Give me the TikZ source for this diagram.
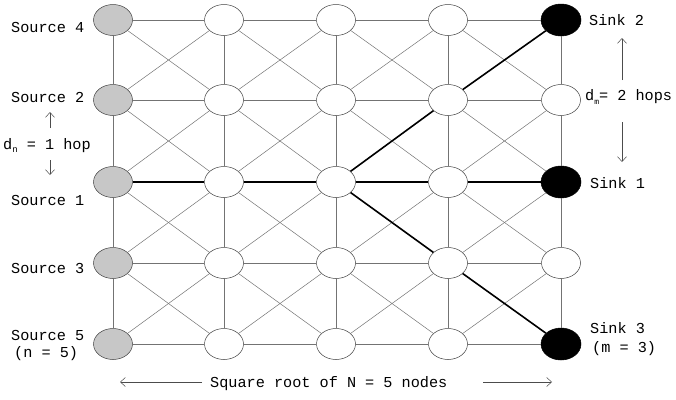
\documentclass[tikz,border=0pt]{standalone}
\usepackage{fontspec}
\setmainfont{Liberation Mono}
\usetikzlibrary{shapes.geometric,arrows.meta}
\begin{document}
\begin{tikzpicture}[x=1pt,y=-1pt,
  gnode/.style={ellipse,draw=black!75,line width=0.5pt,minimum width=39pt,minimum height=31pt,inner sep=0pt,fill=white},
  srcnode/.style={gnode,fill=black!22},
  sinknode/.style={gnode,fill=black,draw=black,minimum width=40pt,minimum height=32pt},
  thinedge/.style={draw=black!55,line width=0.5pt},
  pathedge/.style={draw=black,line width=1.6pt},
  lbl/.style={font=\fontsize{15.2}{15.2}\selectfont,inner sep=0pt},
  subs/.style={},
  harrow/.style={draw=black!70,line width=0.5pt,-{Straight Barb[length=5pt,width=9pt]}}
]
\useasboundingbox (0,0) rectangle (676,399);
% nodes
\foreach \y [count=\j] in {20,100,182,263,344} {
  \node[srcnode] (n1\j) at (113,\y) {};
  \foreach \x [count=\i from 2] in {224,336,448} \node[gnode] (n\i\j) at (\x,\y) {};
}
\node[sinknode] (n51) at (561,20) {};
\node[gnode] (n52) at (561,100) {};
\node[sinknode] (n53) at (561,182) {};
\node[gnode] (n54) at (561,263) {};
\node[sinknode] (n55) at (561,344) {};
% grid edges
\foreach \i in {1,...,4} {
  \pgfmathtruncatemacro\ii{\i+1}
  \foreach \j in {1,...,5} \draw[thinedge] (n\i\j) -- (n\ii\j);
}
\foreach \j in {1,...,4} {
  \pgfmathtruncatemacro\jj{\j+1}
  \foreach \i in {1,...,5} \draw[thinedge] (n\i\j) -- (n\i\jj);
}
\foreach \i in {1,...,4} {
  \pgfmathtruncatemacro\ii{\i+1}
  \foreach \j in {1,...,4} {
    \pgfmathtruncatemacro\jj{\j+1}
    \draw[thinedge] (n\i\j) -- (n\ii\jj);
    \draw[thinedge] (n\ii\j) -- (n\i\jj);
  }
}
% thick paths
\draw[pathedge] (n13) -- (n23);
\draw[pathedge] (n23) -- (n33);
\draw[pathedge] (n33) -- (n43);
\draw[pathedge] (n43) -- (n53);
\draw[pathedge] (n33) -- (n42);
\draw[pathedge] (n42) -- (n51);
\draw[pathedge] (n33) -- (n44);
\draw[pathedge] (n44) -- (n55);
% left labels
\node[lbl,anchor=base west] (s4) at (11,32) {Source 4};
\node[lbl,anchor=base west] (s2) at (11,102) {Source 2};
\node[lbl,anchor=base west] (s1) at (11,205) {Source 1};
\node[lbl,anchor=base west] (s3) at (11,273) {Source 3};
\node[lbl,anchor=base west] (s5) at (11,340) {Source 5};
\node[lbl,anchor=base west] (nn) at (14,357) {(n = 5)};
\node[lbl,anchor=base west] (dn) at (3,149) {d\raisebox{-3pt}{\fontsize{9}{9}\selectfont n} = 1 hop};
% right labels
\node[lbl,anchor=base west] (k2) at (589,25) {Sink 2};
\node[lbl,anchor=base west] (dm) at (585,100) {d\raisebox{-4pt}{\fontsize{8}{8}\selectfont m}= 2 hops};
\node[lbl,anchor=base west] (k1) at (590,188) {Sink 1};
\node[lbl,anchor=base west] (k3) at (590,333) {Sink 3};
\node[lbl,anchor=base west] (mm) at (592,352) {(m = 3)};
% bottom label
\node[lbl,anchor=base west] (sq) at (210,387) {Square root of N = 5 nodes};
% arrows
\coordinate (a1t) at (50,128); \coordinate (a1h) at (50,112);
\coordinate (a2t) at (50,160); \coordinate (a2h) at (50,175);
\coordinate (a3t) at (622,80); \coordinate (a3h) at (622,38);
\coordinate (a4t) at (622,122); \coordinate (a4h) at (622,162);
\coordinate (a5t) at (202,382); \coordinate (a5h) at (120,382);
\coordinate (a6t) at (483,382); \coordinate (a6h) at (552,382);
\draw[harrow] (a1t) -- (a1h);
\draw[harrow] (a2t) -- (a2h);
\draw[harrow] (a3t) -- (a3h);
\draw[harrow] (a4t) -- (a4h);
\draw[harrow] (a5t) -- (a5h);
\draw[harrow] (a6t) -- (a6h);
\end{tikzpicture}
\end{document}
